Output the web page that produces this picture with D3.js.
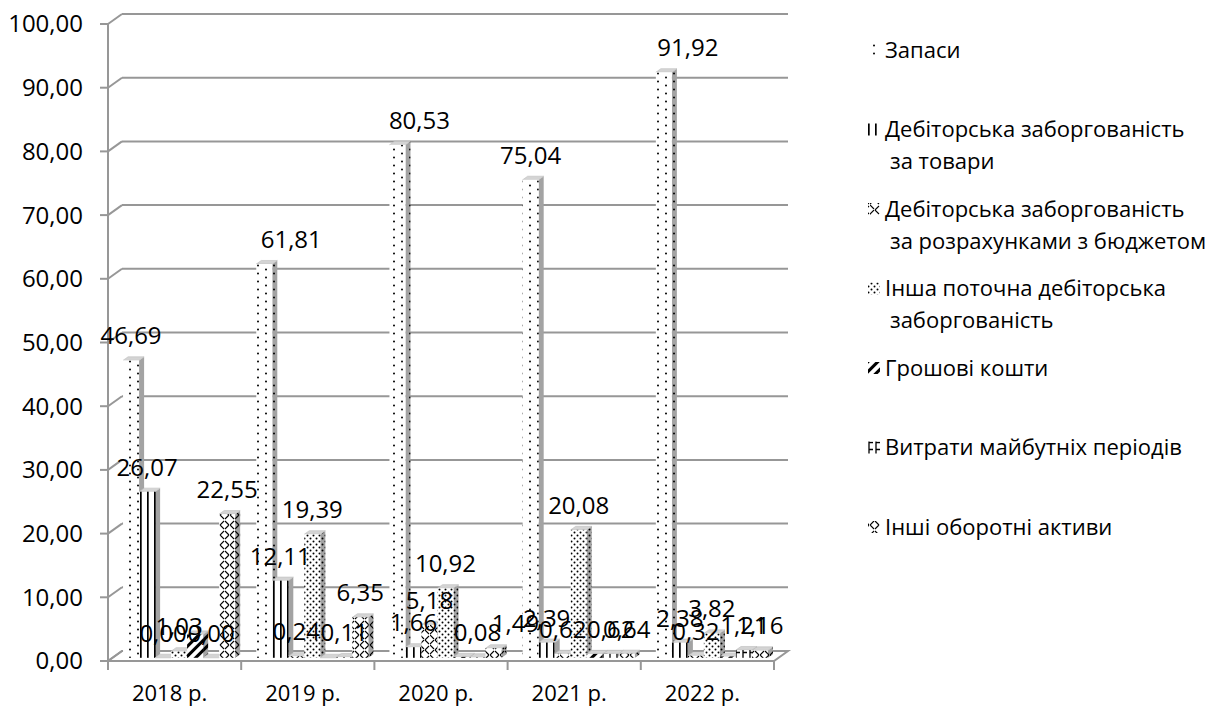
<!DOCTYPE html>
<html>
<head>
<meta charset="utf-8">
<script src="https://cdn.jsdelivr.net/npm/d3@7"></script>
<style>
  html, body { margin: 0; padding: 0; background: #fff; }
  svg { display: block; font-family: "Open Sans", "Noto Sans", sans-serif; }
</style>
</head>
<body>
<svg id="chart" width="1227" height="708"></svg>
<script>
// ---- data -------------------------------------------------------------
const categories = ["2018 р.", "2019 р.", "2020 р.", "2021 р.", "2022 р."];
const seriesNames = [
  "Запаси",
  "Дебіторська заборгованість за товари",
  "Дебіторська заборгованість за розрахунками з бюджетом",
  "Інша поточна дебіторська заборгованість",
  "Грошові кошти",
  "Витрати майбутніх періодів",
  "Інші оборотні активи"
];
const zapasy        = [46.69, 61.81, 80.53, 75.04, 91.92];
const debTovary     = [26.07, 12.11, 1.66, 2.39, 2.38];
const debBudget     = [0.00, 0.24, 5.18, 0.62, 0.32];
const inshaDeb      = [1.03, 19.39, 10.92, 20.08, 3.82];
const groshovi      = [3.66, 0.00, 0.14, 0.61, 0.20];
const vytraty       = [0.00, 0.11, 0.08, 0.62, 1.21];
const inshiAktyvy   = [22.55, 6.35, 1.49, 0.64, 1.16];
const yTicks        = [0, 10, 20, 30, 40, 50, 60, 70, 80, 90, 100];

const seriesValues = [zapasy, debTovary, debBudget, inshaDeb, groshovi, vytraty, inshiAktyvy];
// the cash series is drawn without value labels
const labelled = [true, true, true, true, false, true, true];

// legend wording split into lines
const legendLines = [
  ["Запаси"],
  ["Дебіторська заборгованість", "за товари"],
  ["Дебіторська заборгованість", "за розрахунками з бюджетом"],
  ["Інша поточна дебіторська", "заборгованість"],
  ["Грошові кошти"],
  ["Витрати майбутніх періодів"],
  ["Інші оборотні активи"]
];

// ---- layout -----------------------------------------------------------
const svg = d3.select("#chart");
const fmt = d3.formatLocale({ decimal: ",", thousands: " ", grouping: [3], currency: ["", ""] }).format(".2f");

const plot = { left: 108, right: 774, top: 24, bottom: 661 };
const depth = { x: 14, y: -10 };          // back wall offset
const barFront = 0.32, barBack = 0.68;    // bar position inside the depth
const grid = "#979797";
const FONT = 22;       // legend and category text
const NUM_FONT = 24;   // numbers

const x = d3.scaleBand().domain(categories).range([plot.left, plot.right]).padding(0);
const xs = d3.scaleBand().domain(d3.range(seriesNames.length))
  .range([0, x.bandwidth()]).paddingInner(0).paddingOuter(0.66);
const y = d3.scaleLinear().domain([0, 100]).range([plot.bottom, plot.top]);

// ---- fill patterns ----------------------------------------------------
const defs = svg.append("defs");
function makePattern(id, w, h, bg, draw, transform) {
  const p = defs.append("pattern").attr("id", id)
    .attr("patternUnits", "userSpaceOnUse").attr("width", w).attr("height", h);
  if (transform) p.attr("patternTransform", transform);
  p.append("rect").attr("width", w).attr("height", h).attr("fill", bg);
  draw(p);
}
const patternDrawers = [
  // sparse dots
  { w: 16, h: 8, draw: p => { p.append("circle").attr("cx", 2).attr("cy", 1.5).attr("r", 1).attr("fill", "#000");
                              p.append("circle").attr("cx", 10).attr("cy", 5.5).attr("r", 1).attr("fill", "#000"); } },
  // vertical lines
  { w: 7, h: 4, draw: p => p.append("rect").attr("x", 0).attr("width", 1.7).attr("height", 4).attr("fill", "#000") },
  // weave
  { w: 10, h: 10, draw: p => p.append("path").attr("d", "M0,4L4,0M5,10L9,6M5,0L9,4M0,5L4,9")
                              .attr("stroke", "#000").attr("stroke-width", 1.1).attr("fill", "none") },
  // dotted grid
  { w: 6, h: 6, draw: p => { p.append("circle").attr("cx", 1.5).attr("cy", 1.5).attr("r", 1).attr("fill", "#000");
                             p.append("circle").attr("cx", 4.5).attr("cy", 4.5).attr("r", 1).attr("fill", "#000"); } },
  // wide upward diagonal
  { w: 7, h: 7, t: "rotate(45)", draw: p => p.append("rect").attr("width", 3).attr("height", 7).attr("fill", "#000") },
  // dashed lattice
  { w: 7, h: 7, draw: p => p.append("path").attr("d", "M1,0V7M1,1.5H5")
                              .attr("stroke", "#000").attr("stroke-width", 1.3).attr("fill", "none") },
  // weave, alternate phase
  { w: 10, h: 10, draw: p => p.append("path").attr("d", "M0,5L4,1M5,9L9,5M5,1L9,5M0,5L4,9")
                              .attr("stroke", "#000").attr("stroke-width", 1.1).attr("fill", "none") }
];
patternDrawers.forEach((d, i) => {
  makePattern("pf" + i, d.w, d.h, "#ffffff", d.draw, d.t);
  makePattern("ps" + i, d.w, d.h, "#a3a3a3", d.draw, d.t);
});

// ---- walls and grid ---------------------------------------------------
const g = svg.append("g");

// floor
g.append("path")
  .attr("d", `M${plot.left},${y(0)}H${plot.right}L${plot.right + depth.x},${y(0) + depth.y}H${plot.left + depth.x}Z`)
  .attr("fill", "#fff").attr("stroke", grid).attr("stroke-width", 2);

yTicks.forEach(t => {
  const yy = y(t);
  // back-wall gridline
  g.append("line").attr("x1", plot.left + depth.x).attr("x2", plot.right + depth.x)
    .attr("y1", yy + depth.y).attr("y2", yy + depth.y)
    .attr("stroke", grid).attr("stroke-width", 2);
  // side-wall gridline
  g.append("line").attr("x1", plot.left).attr("x2", plot.left + depth.x)
    .attr("y1", yy).attr("y2", yy + depth.y)
    .attr("stroke", grid).attr("stroke-width", 2);
  // tick
  g.append("line").attr("x1", plot.left - 8).attr("x2", plot.left)
    .attr("y1", yy).attr("y2", yy).attr("stroke", grid).attr("stroke-width", 2);
  g.append("text").attr("x", 83).attr("y", yy).attr("dy", "0.35em")
    .attr("text-anchor", "end").attr("font-size", NUM_FONT).attr("fill", "#000")
    .text(fmt(t));
});

// value axis line and category axis
g.append("line").attr("x1", plot.left).attr("x2", plot.left)
  .attr("y1", y(100)).attr("y2", y(0) + 9).attr("stroke", grid).attr("stroke-width", 2);
g.append("line").attr("x1", plot.left).attr("x2", plot.right)
  .attr("y1", y(0)).attr("y2", y(0)).attr("stroke", grid).attr("stroke-width", 2);
categories.forEach((c, i) => {
  g.append("line").attr("x1", x(c) + x.bandwidth()).attr("x2", x(c) + x.bandwidth())
    .attr("y1", y(0)).attr("y2", y(0) + 9).attr("stroke", grid).attr("stroke-width", 2);
  g.append("text").attr("x", x(c) + x.bandwidth() / 2 - 5).attr("y", 701)
    .attr("text-anchor", "middle").attr("font-size", FONT).attr("fill", "#000").text(c);
});

// ---- bars -------------------------------------------------------------
const bw = xs.bandwidth();
const off0 = { x: depth.x * barFront, y: depth.y * barFront };
const dd = { x: depth.x * (barBack - barFront), y: depth.y * (barBack - barFront) };
const bars = g.append("g");
const labelData = [];

categories.forEach((c, ci) => {
  seriesValues.forEach((vals, si) => {
    const v = vals[ci];
    const x0 = x(c) + xs(si) + off0.x;
    const base = y(0) + off0.y;
    const top = y(v) + off0.y;
    const b = bars.append("g");
    // right side face
    b.append("path")
      .attr("d", `M${x0 + bw},${top}L${x0 + bw + dd.x},${top + dd.y}V${base + dd.y}L${x0 + bw},${base}Z`)
      .attr("fill", `url(#ps${si})`);
    // top face
    b.append("path")
      .attr("d", `M${x0},${top}H${x0 + bw}L${x0 + bw + dd.x},${top + dd.y}H${x0 + dd.x}Z`)
      .attr("fill", "#d4d4d4").attr("stroke", "#bdbdbd").attr("stroke-width", 0.6);
    // front face
    b.append("rect").attr("x", x0).attr("y", top).attr("width", bw).attr("height", base - top)
      .attr("fill", `url(#pf${si})`);
    if (labelled[si]) labelData.push({ si, ci, v, cx: x0 + bw / 2, top });
  });
});

// value labels (a few are moved sideways off their column)
const labelShift = { "0-1": 27, "0-2": 22, "0-4": 24, "6-2": 22 };
svg.append("g").selectAll("text").data(labelData).join("text")
  .attr("x", d => d.cx + (labelShift[d.si + "-" + d.ci] || 0))
  .attr("y", d => d.top - 16)
  .attr("text-anchor", "middle").attr("font-size", NUM_FONT).attr("fill", "#000")
  .text(d => fmt(d.v));

// ---- legend -----------------------------------------------------------
const legend = svg.append("g");
legendLines.forEach((lines, i) => {
  const cy = 50 + i * 79.5;
  legend.append("rect").attr("x", 868).attr("y", cy - 6).attr("width", 12).attr("height", 12)
    .attr("fill", `url(#pf${i})`);
  lines.forEach((t, k) => {
    legend.append("text").attr("x", k === 0 ? 885 : 890).attr("y", cy + k * 32).attr("dy", "0.35em")
      .attr("font-size", FONT).attr("fill", "#000").text(t);
  });
});
</script>
</body>
</html>
